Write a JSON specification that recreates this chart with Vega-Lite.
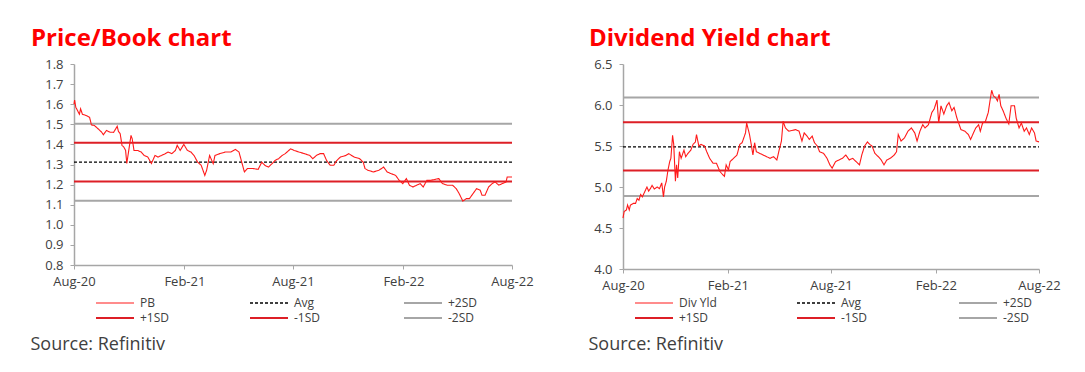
{
"$schema": "https://vega.github.io/schema/vega-lite/v6.json",
"padding": {"left": 30, "top": 27, "right": 5, "bottom": 5},
"config": {
  "font": "Open Sans",
  "view": {"stroke": null},
  "axis": {"grid": false, "domainColor": "#a6a6a6", "domainWidth": 1.5, "tickColor": "#a6a6a6", "tickSize": 4, "labelColor": "#404040", "labelFontSize": 13, "labelFont": "Open Sans"},
  "legend": {"symbolType": "M-1,0H8.5", "symbolSize": 64, "labelFontSize": 12, "labelColor": "#404040", "columns": 3, "direction": "horizontal", "rowPadding": 3, "columnPadding": 76, "gridAlign": "all", "labelOffset": 34, "orient": "none"},
  "title": {"color": "#ff0000", "fontSize": 24, "fontWeight": "bold", "font": "Open Sans", "anchor": "start", "frame": "group", "baseline": "alphabetic", "offset": 7}
},
"datasets": {
"pb": [
{"d":"2020-08-01","v":1.60,"s":"PB"},{"d":"2020-08-02","v":1.62,"s":"PB"},{"d":"2020-08-04","v":1.585,"s":"PB"},{"d":"2020-08-10","v":1.55,"s":"PB"},{"d":"2020-08-12","v":1.577,"s":"PB"},{"d":"2020-08-15","v":1.55,"s":"PB"},{"d":"2020-08-21","v":1.544,"s":"PB"},{"d":"2020-08-27","v":1.535,"s":"PB"},{"d":"2020-08-30","v":1.497,"s":"PB"},{"d":"2020-09-04","v":1.494,"s":"PB"},{"d":"2020-09-10","v":1.478,"s":"PB"},{"d":"2020-09-16","v":1.461,"s":"PB"},{"d":"2020-09-19","v":1.448,"s":"PB"},{"d":"2020-09-24","v":1.469,"s":"PB"},{"d":"2020-09-30","v":1.461,"s":"PB"},{"d":"2020-10-06","v":1.46,"s":"PB"},{"d":"2020-10-12","v":1.49,"s":"PB"},{"d":"2020-10-14","v":1.465,"s":"PB"},{"d":"2020-10-17","v":1.453,"s":"PB"},{"d":"2020-10-20","v":1.395,"s":"PB"},{"d":"2020-10-23","v":1.387,"s":"PB"},{"d":"2020-10-26","v":1.37,"s":"PB"},{"d":"2020-10-28","v":1.305,"s":"PB"},{"d":"2020-10-30","v":1.345,"s":"PB"},{"d":"2020-11-04","v":1.445,"s":"PB"},{"d":"2020-11-06","v":1.428,"s":"PB"},{"d":"2020-11-09","v":1.37,"s":"PB"},{"d":"2020-11-15","v":1.37,"s":"PB"},{"d":"2020-11-21","v":1.362,"s":"PB"},{"d":"2020-11-26","v":1.345,"s":"PB"},{"d":"2020-12-02","v":1.337,"s":"PB"},{"d":"2020-12-08","v":1.305,"s":"PB"},{"d":"2020-12-14","v":1.345,"s":"PB"},{"d":"2020-12-19","v":1.337,"s":"PB"},{"d":"2020-12-25","v":1.345,"s":"PB"},{"d":"2020-12-31","v":1.354,"s":"PB"},{"d":"2021-01-05","v":1.362,"s":"PB"},{"d":"2021-01-11","v":1.354,"s":"PB"},{"d":"2021-01-17","v":1.37,"s":"PB"},{"d":"2021-01-20","v":1.395,"s":"PB"},{"d":"2021-01-25","v":1.37,"s":"PB"},{"d":"2021-01-31","v":1.40,"s":"PB"},{"d":"2021-02-06","v":1.37,"s":"PB"},{"d":"2021-02-12","v":1.362,"s":"PB"},{"d":"2021-02-17","v":1.345,"s":"PB"},{"d":"2021-02-23","v":1.312,"s":"PB"},{"d":"2021-03-01","v":1.296,"s":"PB"},{"d":"2021-03-07","v":1.246,"s":"PB"},{"d":"2021-03-10","v":1.271,"s":"PB"},{"d":"2021-03-15","v":1.345,"s":"PB"},{"d":"2021-03-21","v":1.304,"s":"PB"},{"d":"2021-03-24","v":1.345,"s":"PB"},{"d":"2021-04-01","v":1.354,"s":"PB"},{"d":"2021-04-10","v":1.362,"s":"PB"},{"d":"2021-04-19","v":1.362,"s":"PB"},{"d":"2021-04-27","v":1.375,"s":"PB"},{"d":"2021-05-03","v":1.362,"s":"PB"},{"d":"2021-05-06","v":1.329,"s":"PB"},{"d":"2021-05-12","v":1.263,"s":"PB"},{"d":"2021-05-17","v":1.28,"s":"PB"},{"d":"2021-05-26","v":1.28,"s":"PB"},{"d":"2021-06-04","v":1.276,"s":"PB"},{"d":"2021-06-10","v":1.312,"s":"PB"},{"d":"2021-06-15","v":1.296,"s":"PB"},{"d":"2021-06-21","v":1.287,"s":"PB"},{"d":"2021-06-27","v":1.304,"s":"PB"},{"d":"2021-07-02","v":1.32,"s":"PB"},{"d":"2021-07-08","v":1.329,"s":"PB"},{"d":"2021-07-14","v":1.345,"s":"PB"},{"d":"2021-07-19","v":1.354,"s":"PB"},{"d":"2021-07-28","v":1.378,"s":"PB"},{"d":"2021-08-03","v":1.37,"s":"PB"},{"d":"2021-08-11","v":1.362,"s":"PB"},{"d":"2021-08-20","v":1.354,"s":"PB"},{"d":"2021-08-29","v":1.345,"s":"PB"},{"d":"2021-09-03","v":1.329,"s":"PB"},{"d":"2021-09-09","v":1.345,"s":"PB"},{"d":"2021-09-15","v":1.354,"s":"PB"},{"d":"2021-09-21","v":1.354,"s":"PB"},{"d":"2021-09-26","v":1.32,"s":"PB"},{"d":"2021-10-02","v":1.296,"s":"PB"},{"d":"2021-10-08","v":1.296,"s":"PB"},{"d":"2021-10-13","v":1.32,"s":"PB"},{"d":"2021-10-19","v":1.337,"s":"PB"},{"d":"2021-10-28","v":1.345,"s":"PB"},{"d":"2021-11-02","v":1.354,"s":"PB"},{"d":"2021-11-11","v":1.337,"s":"PB"},{"d":"2021-11-20","v":1.329,"s":"PB"},{"d":"2021-11-26","v":1.312,"s":"PB"},{"d":"2021-11-29","v":1.28,"s":"PB"},{"d":"2021-12-04","v":1.271,"s":"PB"},{"d":"2021-12-13","v":1.263,"s":"PB"},{"d":"2021-12-22","v":1.271,"s":"PB"},{"d":"2021-12-30","v":1.287,"s":"PB"},{"d":"2022-01-05","v":1.263,"s":"PB"},{"d":"2022-01-11","v":1.255,"s":"PB"},{"d":"2022-01-19","v":1.246,"s":"PB"},{"d":"2022-01-25","v":1.221,"s":"PB"},{"d":"2022-01-31","v":1.205,"s":"PB"},{"d":"2022-02-06","v":1.23,"s":"PB"},{"d":"2022-02-11","v":1.197,"s":"PB"},{"d":"2022-02-17","v":1.188,"s":"PB"},{"d":"2022-02-23","v":1.197,"s":"PB"},{"d":"2022-03-01","v":1.205,"s":"PB"},{"d":"2022-03-06","v":1.188,"s":"PB"},{"d":"2022-03-12","v":1.221,"s":"PB"},{"d":"2022-03-18","v":1.221,"s":"PB"},{"d":"2022-03-26","v":1.226,"s":"PB"},{"d":"2022-04-01","v":1.23,"s":"PB"},{"d":"2022-04-07","v":1.205,"s":"PB"},{"d":"2022-04-15","v":1.197,"s":"PB"},{"d":"2022-04-24","v":1.197,"s":"PB"},{"d":"2022-04-30","v":1.18,"s":"PB"},{"d":"2022-05-05","v":1.155,"s":"PB"},{"d":"2022-05-11","v":1.118,"s":"PB"},{"d":"2022-05-17","v":1.13,"s":"PB"},{"d":"2022-05-22","v":1.13,"s":"PB"},{"d":"2022-05-28","v":1.155,"s":"PB"},{"d":"2022-06-03","v":1.18,"s":"PB"},{"d":"2022-06-09","v":1.172,"s":"PB"},{"d":"2022-06-12","v":1.147,"s":"PB"},{"d":"2022-06-17","v":1.147,"s":"PB"},{"d":"2022-06-23","v":1.188,"s":"PB"},{"d":"2022-06-29","v":1.205,"s":"PB"},{"d":"2022-07-04","v":1.213,"s":"PB"},{"d":"2022-07-10","v":1.197,"s":"PB"},{"d":"2022-07-16","v":1.205,"s":"PB"},{"d":"2022-07-22","v":1.213,"s":"PB"},{"d":"2022-07-24","v":1.238,"s":"PB"},{"d":"2022-08-01","v":1.238,"s":"PB"},
{"d":"2020-08-01","v":1.312,"s":"Avg"},{"d":"2022-08-01","v":1.312,"s":"Avg"},
{"d":"2020-08-01","v":1.503,"s":"+2SD"},{"d":"2022-08-01","v":1.503,"s":"+2SD"},
{"d":"2020-08-01","v":1.408,"s":"+1SD"},{"d":"2022-08-01","v":1.408,"s":"+1SD"},
{"d":"2020-08-01","v":1.216,"s":"-1SD"},{"d":"2022-08-01","v":1.216,"s":"-1SD"},
{"d":"2020-08-01","v":1.12,"s":"-2SD"},{"d":"2022-08-01","v":1.12,"s":"-2SD"}
],
"dy": [
{"d":"2020-08-01","v":4.62,"s":"Div Yld"},{"d":"2020-08-03","v":4.70,"s":"Div Yld"},{"d":"2020-08-07","v":4.72,"s":"Div Yld"},{"d":"2020-08-09","v":4.78,"s":"Div Yld"},{"d":"2020-08-12","v":4.72,"s":"Div Yld"},{"d":"2020-08-14","v":4.78,"s":"Div Yld"},{"d":"2020-08-19","v":4.80,"s":"Div Yld"},{"d":"2020-08-23","v":4.80,"s":"Div Yld"},{"d":"2020-08-26","v":4.86,"s":"Div Yld"},{"d":"2020-08-29","v":4.84,"s":"Div Yld"},{"d":"2020-09-01","v":4.91,"s":"Div Yld"},{"d":"2020-09-04","v":4.88,"s":"Div Yld"},{"d":"2020-09-08","v":4.94,"s":"Div Yld"},{"d":"2020-09-12","v":5.00,"s":"Div Yld"},{"d":"2020-09-15","v":4.95,"s":"Div Yld"},{"d":"2020-09-18","v":4.98,"s":"Div Yld"},{"d":"2020-09-21","v":5.02,"s":"Div Yld"},{"d":"2020-09-25","v":4.975,"s":"Div Yld"},{"d":"2020-09-30","v":5.00,"s":"Div Yld"},{"d":"2020-10-04","v":4.98,"s":"Div Yld"},{"d":"2020-10-08","v":5.05,"s":"Div Yld"},{"d":"2020-10-11","v":4.88,"s":"Div Yld"},{"d":"2020-10-13","v":5.00,"s":"Div Yld"},{"d":"2020-10-16","v":5.07,"s":"Div Yld"},{"d":"2020-10-19","v":5.21,"s":"Div Yld"},{"d":"2020-10-22","v":5.31,"s":"Div Yld"},{"d":"2020-10-24","v":5.35,"s":"Div Yld"},{"d":"2020-10-27","v":5.63,"s":"Div Yld"},{"d":"2020-10-29","v":5.52,"s":"Div Yld"},{"d":"2020-11-01","v":5.07,"s":"Div Yld"},{"d":"2020-11-03","v":5.27,"s":"Div Yld"},{"d":"2020-11-05","v":5.11,"s":"Div Yld"},{"d":"2020-11-08","v":5.43,"s":"Div Yld"},{"d":"2020-11-11","v":5.35,"s":"Div Yld"},{"d":"2020-11-16","v":5.45,"s":"Div Yld"},{"d":"2020-11-19","v":5.37,"s":"Div Yld"},{"d":"2020-11-23","v":5.41,"s":"Div Yld"},{"d":"2020-11-28","v":5.45,"s":"Div Yld"},{"d":"2020-12-02","v":5.52,"s":"Div Yld"},{"d":"2020-12-06","v":5.55,"s":"Div Yld"},{"d":"2020-12-08","v":5.64,"s":"Div Yld"},{"d":"2020-12-12","v":5.50,"s":"Div Yld"},{"d":"2020-12-16","v":5.52,"s":"Div Yld"},{"d":"2020-12-22","v":5.50,"s":"Div Yld"},{"d":"2020-12-26","v":5.43,"s":"Div Yld"},{"d":"2020-12-31","v":5.35,"s":"Div Yld"},{"d":"2021-01-06","v":5.29,"s":"Div Yld"},{"d":"2021-01-12","v":5.29,"s":"Div Yld"},{"d":"2021-01-18","v":5.19,"s":"Div Yld"},{"d":"2021-01-23","v":5.15,"s":"Div Yld"},{"d":"2021-01-26","v":5.13,"s":"Div Yld"},{"d":"2021-01-29","v":5.27,"s":"Div Yld"},{"d":"2021-02-02","v":5.21,"s":"Div Yld"},{"d":"2021-02-05","v":5.31,"s":"Div Yld"},{"d":"2021-02-11","v":5.35,"s":"Div Yld"},{"d":"2021-02-17","v":5.39,"s":"Div Yld"},{"d":"2021-02-22","v":5.52,"s":"Div Yld"},{"d":"2021-02-26","v":5.54,"s":"Div Yld"},{"d":"2021-03-01","v":5.60,"s":"Div Yld"},{"d":"2021-03-04","v":5.66,"s":"Div Yld"},{"d":"2021-03-06","v":5.78,"s":"Div Yld"},{"d":"2021-03-11","v":5.64,"s":"Div Yld"},{"d":"2021-03-14","v":5.52,"s":"Div Yld"},{"d":"2021-03-17","v":5.39,"s":"Div Yld"},{"d":"2021-03-20","v":5.54,"s":"Div Yld"},{"d":"2021-03-23","v":5.43,"s":"Div Yld"},{"d":"2021-03-29","v":5.41,"s":"Div Yld"},{"d":"2021-04-04","v":5.39,"s":"Div Yld"},{"d":"2021-04-10","v":5.37,"s":"Div Yld"},{"d":"2021-04-16","v":5.35,"s":"Div Yld"},{"d":"2021-04-22","v":5.37,"s":"Div Yld"},{"d":"2021-04-28","v":5.33,"s":"Div Yld"},{"d":"2021-05-02","v":5.45,"s":"Div Yld"},{"d":"2021-05-06","v":5.56,"s":"Div Yld"},{"d":"2021-05-09","v":5.80,"s":"Div Yld"},{"d":"2021-05-13","v":5.72,"s":"Div Yld"},{"d":"2021-05-19","v":5.68,"s":"Div Yld"},{"d":"2021-05-25","v":5.69,"s":"Div Yld"},{"d":"2021-05-31","v":5.70,"s":"Div Yld"},{"d":"2021-06-06","v":5.68,"s":"Div Yld"},{"d":"2021-06-11","v":5.56,"s":"Div Yld"},{"d":"2021-06-15","v":5.66,"s":"Div Yld"},{"d":"2021-06-20","v":5.62,"s":"Div Yld"},{"d":"2021-06-24","v":5.58,"s":"Div Yld"},{"d":"2021-06-29","v":5.62,"s":"Div Yld"},{"d":"2021-07-03","v":5.54,"s":"Div Yld"},{"d":"2021-07-08","v":5.50,"s":"Div Yld"},{"d":"2021-07-12","v":5.43,"s":"Div Yld"},{"d":"2021-07-19","v":5.41,"s":"Div Yld"},{"d":"2021-07-25","v":5.35,"s":"Div Yld"},{"d":"2021-07-30","v":5.27,"s":"Div Yld"},{"d":"2021-08-03","v":5.23,"s":"Div Yld"},{"d":"2021-08-09","v":5.31,"s":"Div Yld"},{"d":"2021-08-15","v":5.33,"s":"Div Yld"},{"d":"2021-08-21","v":5.35,"s":"Div Yld"},{"d":"2021-08-27","v":5.39,"s":"Div Yld"},{"d":"2021-09-02","v":5.33,"s":"Div Yld"},{"d":"2021-09-08","v":5.35,"s":"Div Yld"},{"d":"2021-09-14","v":5.31,"s":"Div Yld"},{"d":"2021-09-20","v":5.27,"s":"Div Yld"},{"d":"2021-09-24","v":5.39,"s":"Div Yld"},{"d":"2021-09-29","v":5.50,"s":"Div Yld"},{"d":"2021-10-04","v":5.55,"s":"Div Yld"},{"d":"2021-10-08","v":5.52,"s":"Div Yld"},{"d":"2021-10-12","v":5.50,"s":"Div Yld"},{"d":"2021-10-17","v":5.41,"s":"Div Yld"},{"d":"2021-10-23","v":5.37,"s":"Div Yld"},{"d":"2021-10-28","v":5.33,"s":"Div Yld"},{"d":"2021-11-02","v":5.27,"s":"Div Yld"},{"d":"2021-11-07","v":5.33,"s":"Div Yld"},{"d":"2021-11-13","v":5.35,"s":"Div Yld"},{"d":"2021-11-20","v":5.39,"s":"Div Yld"},{"d":"2021-11-24","v":5.43,"s":"Div Yld"},{"d":"2021-11-27","v":5.64,"s":"Div Yld"},{"d":"2021-12-02","v":5.56,"s":"Div Yld"},{"d":"2021-12-08","v":5.60,"s":"Div Yld"},{"d":"2021-12-14","v":5.68,"s":"Div Yld"},{"d":"2021-12-20","v":5.72,"s":"Div Yld"},{"d":"2021-12-26","v":5.66,"s":"Div Yld"},{"d":"2021-12-30","v":5.56,"s":"Div Yld"},{"d":"2022-01-04","v":5.68,"s":"Div Yld"},{"d":"2022-01-09","v":5.76,"s":"Div Yld"},{"d":"2022-01-13","v":5.72,"s":"Div Yld"},{"d":"2022-01-19","v":5.76,"s":"Div Yld"},{"d":"2022-01-25","v":5.91,"s":"Div Yld"},{"d":"2022-01-29","v":5.95,"s":"Div Yld"},{"d":"2022-02-03","v":6.06,"s":"Div Yld"},{"d":"2022-02-06","v":5.78,"s":"Div Yld"},{"d":"2022-02-10","v":5.99,"s":"Div Yld"},{"d":"2022-02-15","v":5.89,"s":"Div Yld"},{"d":"2022-02-20","v":5.99,"s":"Div Yld"},{"d":"2022-02-24","v":6.03,"s":"Div Yld"},{"d":"2022-03-01","v":5.93,"s":"Div Yld"},{"d":"2022-03-05","v":5.97,"s":"Div Yld"},{"d":"2022-03-10","v":5.84,"s":"Div Yld"},{"d":"2022-03-14","v":5.76,"s":"Div Yld"},{"d":"2022-03-17","v":5.70,"s":"Div Yld"},{"d":"2022-03-24","v":5.68,"s":"Div Yld"},{"d":"2022-03-30","v":5.64,"s":"Div Yld"},{"d":"2022-04-03","v":5.58,"s":"Div Yld"},{"d":"2022-04-08","v":5.66,"s":"Div Yld"},{"d":"2022-04-12","v":5.72,"s":"Div Yld"},{"d":"2022-04-17","v":5.76,"s":"Div Yld"},{"d":"2022-04-20","v":5.68,"s":"Div Yld"},{"d":"2022-04-24","v":5.78,"s":"Div Yld"},{"d":"2022-04-29","v":5.80,"s":"Div Yld"},{"d":"2022-05-04","v":5.91,"s":"Div Yld"},{"d":"2022-05-07","v":6.05,"s":"Div Yld"},{"d":"2022-05-10","v":6.18,"s":"Div Yld"},{"d":"2022-05-13","v":6.11,"s":"Div Yld"},{"d":"2022-05-17","v":6.09,"s":"Div Yld"},{"d":"2022-05-20","v":6.05,"s":"Div Yld"},{"d":"2022-05-23","v":6.13,"s":"Div Yld"},{"d":"2022-05-26","v":5.99,"s":"Div Yld"},{"d":"2022-05-30","v":5.93,"s":"Div Yld"},{"d":"2022-06-04","v":5.84,"s":"Div Yld"},{"d":"2022-06-09","v":5.77,"s":"Div Yld"},{"d":"2022-06-13","v":5.99,"s":"Div Yld"},{"d":"2022-06-19","v":5.99,"s":"Div Yld"},{"d":"2022-06-22","v":5.84,"s":"Div Yld"},{"d":"2022-06-27","v":5.72,"s":"Div Yld"},{"d":"2022-07-01","v":5.78,"s":"Div Yld"},{"d":"2022-07-06","v":5.68,"s":"Div Yld"},{"d":"2022-07-10","v":5.72,"s":"Div Yld"},{"d":"2022-07-15","v":5.64,"s":"Div Yld"},{"d":"2022-07-19","v":5.72,"s":"Div Yld"},{"d":"2022-07-24","v":5.66,"s":"Div Yld"},{"d":"2022-07-27","v":5.56,"s":"Div Yld"},{"d":"2022-08-01","v":5.55,"s":"Div Yld"},
{"d":"2020-08-01","v":5.49,"s":"Avg"},{"d":"2022-08-01","v":5.49,"s":"Avg"},
{"d":"2020-08-01","v":6.09,"s":"+2SD"},{"d":"2022-08-01","v":6.09,"s":"+2SD"},
{"d":"2020-08-01","v":5.79,"s":"+1SD"},{"d":"2022-08-01","v":5.79,"s":"+1SD"},
{"d":"2020-08-01","v":5.20,"s":"-1SD"},{"d":"2022-08-01","v":5.20,"s":"-1SD"},
{"d":"2020-08-01","v":4.89,"s":"-2SD"},{"d":"2022-08-01","v":4.89,"s":"-2SD"}
]
},
"spacing": 111,
"bounds": "flush",
"resolve": {"scale": {"color": "independent", "strokeDash": "independent", "strokeWidth": "independent"}, "legend": {"color": "independent", "strokeDash": "independent", "strokeWidth": "independent"}},
"hconcat": [
{
  "width": 438, "height": 201,
  "title": {"text": "Price/Book chart", "dx": -43},
  "data": {"name": "pb"},
  "encoding": {
    "x": {"field": "d", "type": "temporal", "scale": {"type": "utc", "domain": [{"year": 2020, "month": 8, "date": 1, "utc": true}, {"year": 2022, "month": 8, "date": 1, "utc": true}]},
      "axis": {"values": [{"year": 2020, "month": 8, "date": 1, "utc": true}, {"year": 2021, "month": 2, "date": 1, "utc": true}, {"year": 2021, "month": 8, "date": 1, "utc": true}, {"year": 2022, "month": 2, "date": 1, "utc": true}, {"year": 2022, "month": 8, "date": 1, "utc": true}],
        "format": "%b-%y", "labelAngle": 0, "labelFlush": false, "labelOverlap": false, "labelPadding": 6,
        "title": "Source: Refinitiv", "titleX": -44, "titleY": 84, "titleAlign": "left", "titleBaseline": "alphabetic", "titleAngle": 0, "titleFontWeight": "normal", "titleFontSize": 18, "titleColor": "#404040", "titleFont": "Open Sans"}},
    "y": {"field": "v", "type": "quantitative", "scale": {"domain": [0.8, 1.8], "nice": false, "zero": false},
      "axis": {"values": [0.8, 0.9, 1.0, 1.1, 1.2, 1.3, 1.4, 1.5, 1.6, 1.7, 1.8], "format": ".1f", "title": null, "labelPadding": 7}},
    "color": {"field": "s", "type": "nominal", "scale": {"domain": ["PB", "Avg", "+2SD", "+1SD", "-1SD", "-2SD"], "range": ["#ff1a1a", "#000000", "#a6a6a6", "#dd1f26", "#dd1f26", "#a6a6a6"]},
      "legend": {"title": null, "legendX": 20, "legendY": 233}},
    "strokeDash": {"field": "s", "type": "nominal", "scale": {"domain": ["PB", "Avg", "+2SD", "+1SD", "-1SD", "-2SD"], "range": [[1, 0], [3, 2], [1, 0], [1, 0], [1, 0], [1, 0]]},
      "legend": {"title": null, "legendX": 20, "legendY": 233}},
    "strokeWidth": {"field": "s", "type": "nominal", "scale": {"type": "ordinal", "domain": ["PB", "Avg", "+2SD", "+1SD", "-1SD", "-2SD"], "range": [1.1, 1.3, 2, 2, 2, 2]},
      "legend": {"title": null, "legendX": 20, "legendY": 233}}
  },
  "layer": [
    {"transform": [{"filter": "datum.s !== 'PB'"}], "mark": {"type": "line"}},
    {"transform": [{"filter": "datum.s === 'PB'"}], "mark": {"type": "line"}}
  ]
},
{
  "width": 416, "height": 205,
  "title": {"text": "Dividend Yield chart", "dx": -34},
  "data": {"name": "dy"},
  "encoding": {
    "x": {"field": "d", "type": "temporal", "scale": {"type": "utc", "domain": [{"year": 2020, "month": 8, "date": 1, "utc": true}, {"year": 2022, "month": 8, "date": 1, "utc": true}]},
      "axis": {"values": [{"year": 2020, "month": 8, "date": 1, "utc": true}, {"year": 2021, "month": 2, "date": 1, "utc": true}, {"year": 2021, "month": 8, "date": 1, "utc": true}, {"year": 2022, "month": 2, "date": 1, "utc": true}, {"year": 2022, "month": 8, "date": 1, "utc": true}],
        "format": "%b-%y", "labelAngle": 0, "labelFlush": false, "labelOverlap": false, "labelPadding": 6,
        "title": "Source: Refinitiv", "titleX": -35, "titleY": 80, "titleAlign": "left", "titleBaseline": "alphabetic", "titleAngle": 0, "titleFontWeight": "normal", "titleFontSize": 18, "titleColor": "#404040", "titleFont": "Open Sans"}},
    "y": {"field": "v", "type": "quantitative", "scale": {"domain": [4.0, 6.5], "nice": false, "zero": false},
      "axis": {"values": [4.0, 4.5, 5.0, 5.5, 6.0, 6.5], "format": ".1f", "title": null, "labelPadding": 7}},
    "color": {"field": "s", "type": "nominal", "scale": {"domain": ["Div Yld", "Avg", "+2SD", "+1SD", "-1SD", "-2SD"], "range": ["#ff1a1a", "#000000", "#a6a6a6", "#dd1f26", "#dd1f26", "#a6a6a6"]},
      "legend": {"title": null, "legendX": 10, "legendY": 233}},
    "strokeDash": {"field": "s", "type": "nominal", "scale": {"domain": ["Div Yld", "Avg", "+2SD", "+1SD", "-1SD", "-2SD"], "range": [[1, 0], [3, 2], [1, 0], [1, 0], [1, 0], [1, 0]]},
      "legend": {"title": null, "legendX": 10, "legendY": 233}},
    "strokeWidth": {"field": "s", "type": "nominal", "scale": {"type": "ordinal", "domain": ["Div Yld", "Avg", "+2SD", "+1SD", "-1SD", "-2SD"], "range": [1.1, 1.3, 2, 2, 2, 2]},
      "legend": {"title": null, "legendX": 10, "legendY": 233}}
  },
  "layer": [
    {"transform": [{"filter": "datum.s !== 'Div Yld'"}], "mark": {"type": "line"}},
    {"transform": [{"filter": "datum.s === 'Div Yld'"}], "mark": {"type": "line"}}
  ]
}
]
}
